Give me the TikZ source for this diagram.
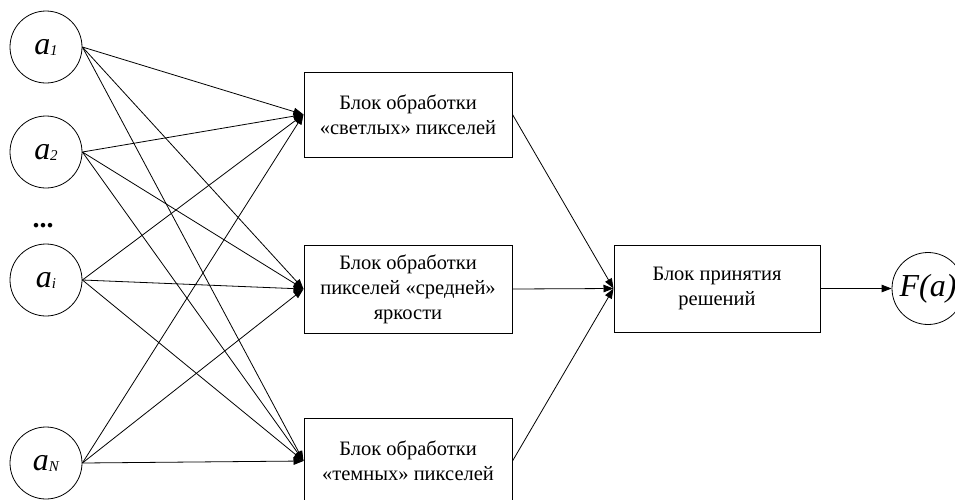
\documentclass[tikz,border=0pt]{standalone}
\usepackage{fontspec}
\setmainfont{Liberation Serif}
\usetikzlibrary{arrows.meta}
\tikzset{
  inp/.style={draw, circle, line width=0.8pt, minimum size=72pt, inner sep=0pt},
  blk/.style={draw, rectangle, line width=1pt, minimum width=208pt, align=center,
              inner sep=0pt, font=\fontsize{20.5}{25}\selectfont},
  arr/.style={line width=0.8pt, -{Triangle[length=10pt,width=7.5pt]}},
  lbl/.style={font=\fontsize{32}{32}\selectfont\itshape}
}
\newcommand{\subi}[1]{\raisebox{-1pt}{\fontsize{15}{15}\selectfont\itshape #1}}
\begin{document}
\begin{tikzpicture}[x=1pt, y=-1pt]
\useasboundingbox (0,0) rectangle (955,499);
\clip (0,0) rectangle (955,499);
% inputs
\node[inp, lbl] (a1) at (46,47) {a\subi{1}};
\node[inp, lbl] (a2) at (46,152) {a\subi{2}};
\node[font=\fontsize{28}{28}\selectfont\bfseries] (dots) at (43,226) {...};
\node[inp, lbl] (ai) at (46,280) {a\subi{i}};
\node[inp, lbl] (aN) at (46,463) {a\subi{N}};
% processing blocks
\node[blk, minimum height=85pt] (b1) at (408,114.5) {Блок обработки\\«светлых» пикселей};
\node[blk, minimum height=88pt] (b2) at (408,289) {Блок обработки\\пикселей «средней»\\яркости};
\node[blk, minimum height=86pt] (b3) at (408,461) {Блок обработки\\«темных» пикселей};
% decision
\node[blk, minimum width=206pt, minimum height=87pt] (d) at (717,288.5) {Блок принятия\\решений};
\node[inp, font=\fontsize{32}{32}\selectfont\itshape] (F) at (928,288.5) {F(a)};
% connectors
\foreach \s in {a1,a2,ai,aN}{
  \foreach \t in {b1,b2,b3}{
    \draw[arr] (\s.east) -- (\t.west);
  }
}
\foreach \t in {b1,b2,b3}{
  \draw[arr] (\t.east) -- (d.west);
}
\draw[arr] (d.east) -- (F.west);
\end{tikzpicture}
\end{document}
